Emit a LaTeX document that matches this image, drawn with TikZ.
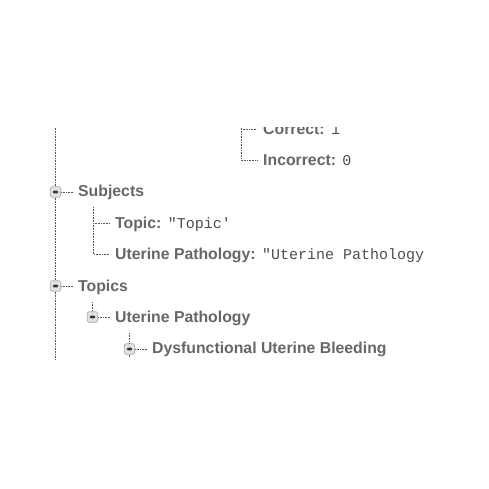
\documentclass[tikz,border=0pt]{standalone}
\usepackage{fontspec}
\usetikzlibrary{positioning}
\newfontfamily\keyfont{Liberation Sans}
\newfontfamily\valfont{Liberation Mono}[Ligatures=TeXOff]
\definecolor{KeyGray}{HTML}{666666}
\definecolor{ValGray}{HTML}{4D4D4D}
\definecolor{LineGray}{HTML}{555555}
\definecolor{BoxFill}{HTML}{E2E2E2}
\definecolor{BoxEdge}{HTML}{AAAAAA}
\tikzset{
  keytext/.style={anchor=west, inner sep=0pt, text height=11pt, text depth=0pt,
    text=KeyGray, font=\keyfont\bfseries\fontsize{15.8}{17}\selectfont},
  valtext/.style={inner sep=0pt, text height=11pt, text depth=0pt,
    text=ValGray, font=\valfont\fontsize{15}{17}\selectfont},
  toggle/.style={draw=BoxEdge, fill=BoxFill, rounded corners=1.5pt, minimum size=10.5pt, inner sep=0pt,
    line width=.7pt,
    path picture={\fill[black!80] ([xshift=-3pt,yshift=-1.3pt]path picture bounding box.center) rectangle ++(6pt,2.6pt);}},
  treeline/.style={LineGray, densely dotted, line width=.6pt},
}

\begin{document}
\begin{tikzpicture}[x=1pt,y=-1pt]
  \useasboundingbox (0,0) rectangle (489,489);
  \begin{scope}
    \clip (0,128) rectangle (425,489);
    % stats block, cut off at the top
    \node[keytext] (kCorrect) at (263,129) {Correct:};
    \node[valtext, right=6pt of kCorrect] (vCorrect) {1};
    \node[keytext] (kIncorrect) at (263,160) {Incorrect:};
    \node[valtext, right=6pt of kIncorrect] (vIncorrect) {0};
    \coordinate (statDrop) at (241,110);
    \draw[treeline] (statDrop) |- ([xshift=-6pt]kIncorrect.west);
    \draw[treeline] (statDrop |- kCorrect.west) -- ([xshift=-6pt]kCorrect.west);
    % top level
    \coordinate (mainTop) at (55.5,110);
    \coordinate (mainEnd) at (55.5,360);
    \node[toggle] (tSubjects) at (55.5,192) {};
    \node[keytext] (kSubjects) at (78,191) {Subjects};
    \node[toggle] (tTopics) at (55.5,286) {};
    \node[keytext] (kTopics) at (78,286) {Topics};
    \draw[treeline] (mainTop) -- (tSubjects.north);
    \draw[treeline] (tSubjects.south) -- (tTopics.north);
    \draw[treeline] (tTopics.south) -- (mainEnd);
    \draw[treeline] (tSubjects.east) -- ([xshift=-5pt]tSubjects.east -| kSubjects.west);
    \draw[treeline] (tTopics.east) -- ([xshift=-5pt]tTopics.east -| kTopics.west);
    % subjects children
    \node[keytext] (kTopic) at (115,223) {Topic:};
    \node[valtext, right=6pt of kTopic] (vTopic) {"Topic'};
    \node[keytext] (kSubjUP) at (115,254) {Uterine Pathology:};
    \node[valtext, right=6pt of kSubjUP] (vSubjUP) {"Uterine Pathology"};
    \coordinate (subjDrop) at (93,207);
    \draw[treeline] (subjDrop) |- ([xshift=-5pt]kTopic.west);
    \draw[treeline] (subjDrop) |- ([xshift=-5pt]kSubjUP.west);
    % topics children
    \node[toggle] (tTopUP) at (92.5,317) {};
    \node[keytext] (kTopUP) at (115,317) {Uterine Pathology};
    \coordinate (topUPStub) at (92.5,302);
    \draw[treeline] (topUPStub) -- (tTopUP.north);
    \draw[treeline] (tTopUP.east) -- ([xshift=-5pt]tTopUP.east -| kTopUP.west);
    \node[toggle] (tDUB) at (129.5,349) {};
    \node[keytext] (kDUB) at (152,348) {Dysfunctional Uterine Bleeding};
    \coordinate (dubStub) at (129.5,333);
    \coordinate (dubEnd) at (129.5,357);
    \draw[treeline] (dubStub) -- (tDUB.north);
    \draw[treeline] (tDUB.south) -- (dubEnd);
    \draw[treeline] (tDUB.east) -- ([xshift=-5pt]tDUB.east -| kDUB.west);
  \end{scope}
\end{tikzpicture}
\end{document}
